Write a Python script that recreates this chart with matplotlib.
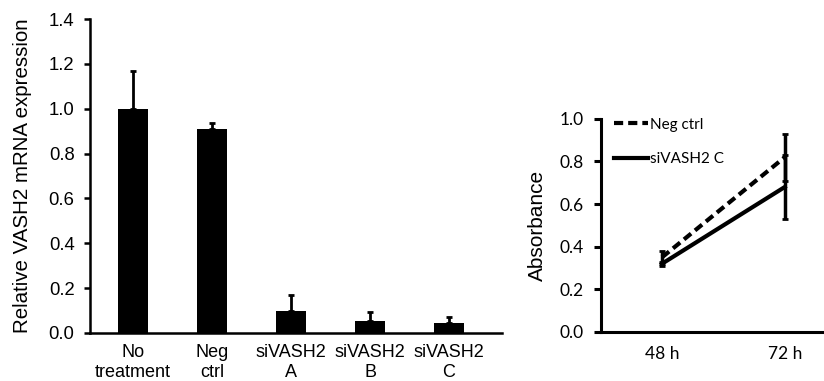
import numpy as np
import matplotlib.pyplot as plt

# left panel: relative expression
groups = ["No\ntreatment", "Neg\nctrl", "siVASH2\nA", "siVASH2\nB", "siVASH2\nC"]
expr = [1.0, 0.91, 0.10, 0.055, 0.045]
expr_err = [0.17, 0.025, 0.07, 0.04, 0.028]

# right panel: absorbance
times = ["48 h", "72 h"]
neg_ctrl = [0.35, 0.82]
neg_ctrl_err = [0.03, 0.11]
sivash2c = [0.32, 0.68]
sivash2c_err = [0.01, 0.15]

fig = plt.figure(figsize=(8.24, 3.81), dpi=100)

ax1 = fig.add_axes([0.109, 0.126, 0.500, 0.824])
x = np.arange(len(groups))
ax1.bar(x, expr, width=0.38, color="black", zorder=2)
ax1.errorbar(x, expr, yerr=[np.zeros(len(expr)), expr_err], fmt="none",
             ecolor="black", elinewidth=2, capsize=2.5, capthick=2, zorder=3)
ax1.set_xlim(-0.55, 4.67)
ax1.set_ylim(0, 1.4)
ax1.set_yticks(np.arange(0, 1.41, 0.2))
ax1.set_yticklabels([f"{v:.1f}" for v in np.arange(0, 1.41, 0.2)])
ax1.set_xticks(x)
ax1.set_xticklabels(groups, linespacing=1.2)
for s in ["top", "right"]:
    ax1.spines[s].set_visible(False)
for s in ["left", "bottom"]:
    ax1.spines[s].set_linewidth(1.8)
ax1.tick_params(axis="y", width=1.8, length=4, labelsize=13.3, pad=7)
ax1.tick_params(axis="x", length=0, labelsize=13, pad=8)
ax1.set_ylabel("Relative VASH2 mRNA expression", fontsize=14.8, labelpad=12)
for t in ax1.get_xticklabels() + ax1.get_yticklabels():
    t.set_family("Liberation Sans")
ax1.yaxis.label.set_family("Liberation Sans")

ax2 = fig.add_axes([0.729, 0.129, 0.271, 0.559])
xt = np.arange(len(times))
ax2.errorbar(xt, neg_ctrl, yerr=neg_ctrl_err, color="black", lw=3,
             linestyle=(0, (2.2, 1.2)), elinewidth=2.5, capsize=2, capthick=2,
             label="Neg ctrl")
ax2.errorbar(xt, sivash2c, yerr=sivash2c_err, color="black", lw=3,
             elinewidth=2.5, capsize=2, capthick=2, label="siVASH2 C")
ax2.set_xlim(-0.5, 1.32)
ax2.set_ylim(0, 1.0)
ax2.set_yticks(np.arange(0, 1.01, 0.2))
ax2.set_yticklabels([f"{v:.1f}" for v in np.arange(0, 1.01, 0.2)])
ax2.set_xticks(xt)
ax2.set_xticklabels(times)
for s in ["top", "right"]:
    ax2.spines[s].set_visible(False)
for s in ["left", "bottom"]:
    ax2.spines[s].set_linewidth(2.2)
ax2.tick_params(axis="y", width=2.2, length=5, labelsize=12.5, pad=7)
ax2.tick_params(axis="x", length=0, labelsize=12.5, pad=10)
for t in ax2.get_xticklabels() + ax2.get_yticklabels():
    t.set_family("Lato")
ax2.set_ylabel("Absorbance", fontsize=15, family="Liberation Sans", labelpad=9)

h, l = ax2.get_legend_handles_labels()
h = [hh[0] for hh in h]
leg = ax2.legend(h, l, loc="upper left", bbox_to_anchor=(0.0, 1.07), frameon=False,
                 handlelength=2.2, handletextpad=0.1, labelspacing=1.35,
                 prop={"family": "Lato", "size": 11})

fig.savefig("out.png", dpi=100)
